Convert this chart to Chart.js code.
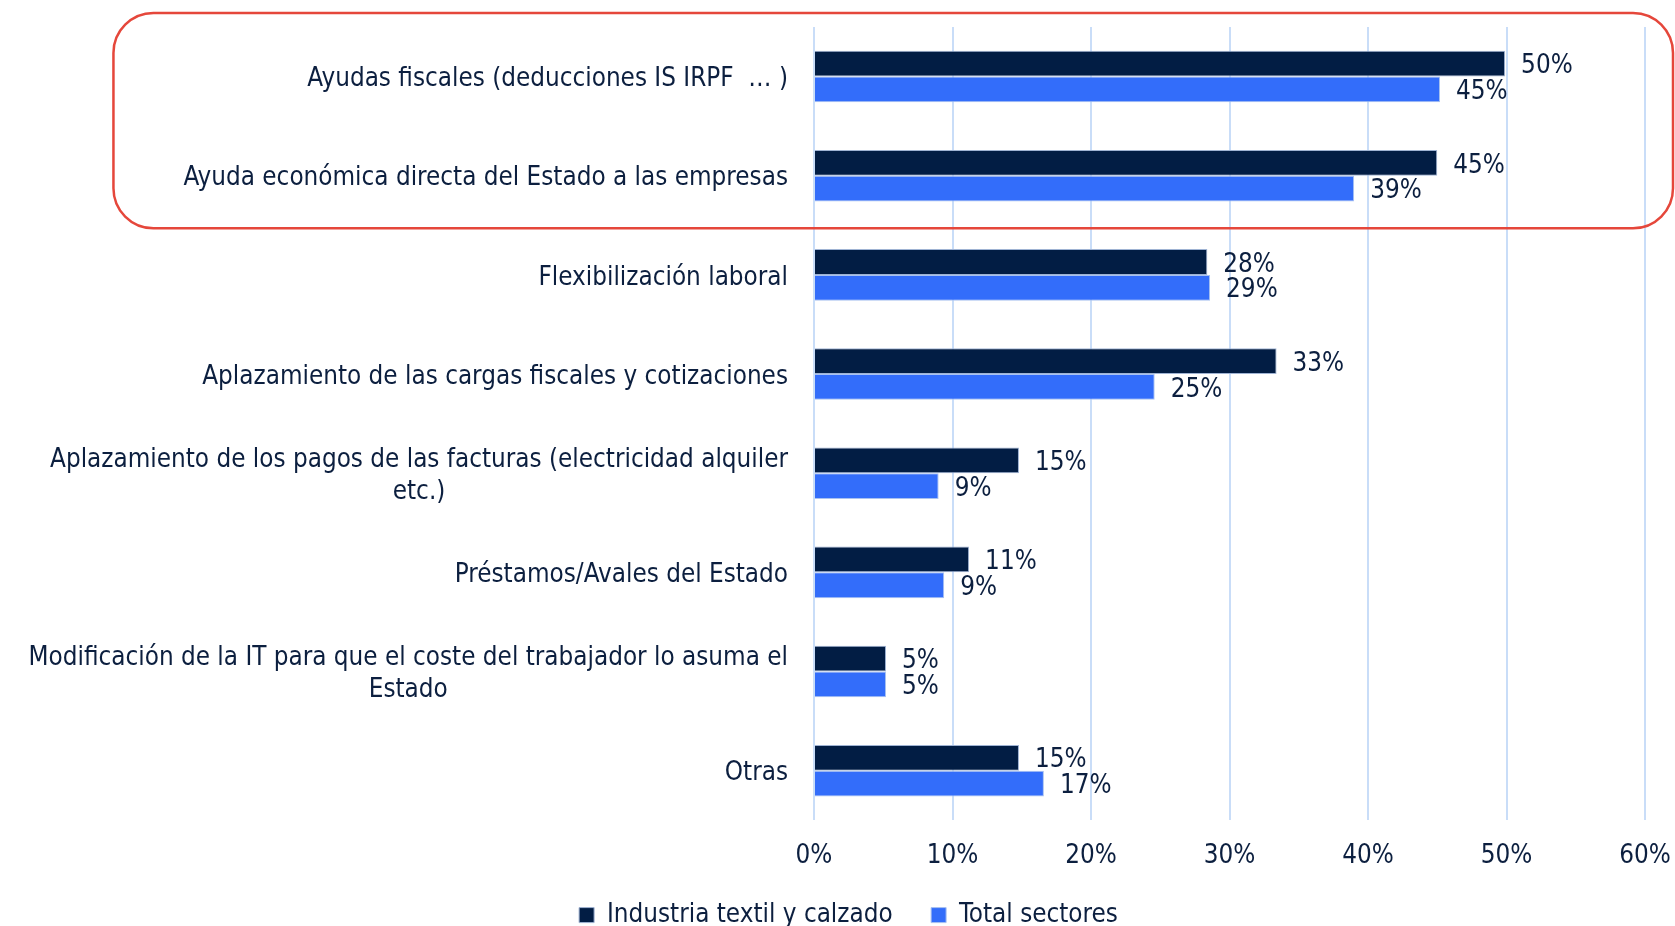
<!DOCTYPE html>
<html><head><meta charset="utf-8">
<script src="https://cdn.jsdelivr.net/npm/chart.js@4/dist/chart.umd.min.js"></script>
<style>html,body{margin:0;padding:0;background:#fff}#wrap{width:1675px;height:926px}</style>
</head><body><div id="wrap"><canvas id="c" width="1675" height="926"></canvas></div>
<script>
const categories = [
  ["Ayudas fiscales (deducciones IS IRPF  … )"],
  ["Ayuda económica directa del Estado a las empresas"],
  ["Flexibilización laboral"],
  ["Aplazamiento de las cargas fiscales y cotizaciones"],
  ["Aplazamiento de los pagos de las facturas (electricidad alquiler", "etc.)"],
  ["Préstamos/Avales del Estado"],
  ["Modificación de la IT para que el coste del trabajador lo asuma el", "Estado"],
  ["Otras"]
];
const seriesNames = ["Industria textil y calzado", "Total sectores"];
const textil = [49.9, 45.0, 28.4, 33.4, 14.8, 11.2, 5.2, 14.8];
const total = [45.2, 39.0, 28.6, 24.6, 9.0, 9.4, 5.2, 16.6];
const xTicks = [0, 10, 20, 30, 40, 50, 60];
const highlighted = [0, 1];

const FONT = "'DejaVu Sans Condensed', 'DejaVu Sans', sans-serif";
const TXT = '#0c1f3f';
const FS = 25.8;

const labelsPlugin = {
  id: 'customLabels',
  afterDatasetsDraw(chart) {
    const ctx = chart.ctx;
    const ys = chart.scales.y;
    const ca = chart.chartArea;
    ctx.save();
    ctx.font = FS + 'px ' + FONT;
    ctx.fillStyle = TXT;
    ctx.textBaseline = 'middle';
    let minLeft = Infinity;
    categories.forEach((lines, i) => {
      const cy = ys.getPixelForValue(i) + 3;
      const widths = lines.map(l => ctx.measureText(l).width);
      const maxW = Math.max(...widths);
      const right = ca.left - 26;
      const lh = 32;
      const startY = cy - (lines.length - 1) * lh / 2;
      lines.forEach((l, k) => {
        ctx.textAlign = 'center';
        ctx.fillText(l, right - maxW / 2, startY + k * lh);
      });
      if (highlighted.includes(i)) minLeft = Math.min(minLeft, right - maxW);
    });
    ctx.textAlign = 'left';
    chart.data.datasets.forEach((ds, di) => {
      const meta = chart.getDatasetMeta(di);
      meta.data.forEach((bar, i) => {
        ctx.fillText(Math.round(ds.data[i]) + '%', bar.x + 16, bar.y + 3);
      });
    });
    const band = ys.getPixelForValue(1) - ys.getPixelForValue(0);
    const top = ys.getPixelForValue(highlighted[0]) - band / 2 - 14;
    const bottom = ys.getPixelForValue(highlighted[highlighted.length - 1]) + band / 2 + 3;
    const left = minLeft - 70;
    const right = ca.right + 28;
    ctx.strokeStyle = '#e5473b';
    ctx.lineWidth = 2.5;
    ctx.beginPath();
    ctx.roundRect(left, top, right - left, bottom - top, 40);
    ctx.stroke();
    ctx.restore();
  }
};

new Chart(document.getElementById('c'), {
  type: 'bar',
  data: {
    labels: categories.map(c => c.join(' ')),
    datasets: [
      { label: seriesNames[0], data: textil, backgroundColor: '#021d44', borderColor: '#9fb3d3', borderWidth: 1, categoryPercentage: 0.52, barPercentage: 1.0 },
      { label: seriesNames[1], data: total, backgroundColor: '#336dfa', borderColor: '#a9c2f0', borderWidth: 1, categoryPercentage: 0.52, barPercentage: 1.0 }
    ]
  },
  options: {
    indexAxis: 'y',
    responsive: false,
    animation: false,
    devicePixelRatio: 1,
    layout: { padding: { top: 27, left: 52, right: 30, bottom: -12 } },
    scales: {
      x: {
        min: 0, max: 60,
        afterBuildTicks: (axis) => { axis.ticks = xTicks.map(v => ({ value: v })); },
        grid: { color: '#c9ddf8', lineWidth: 2, drawTicks: false },
        border: { display: false },
        ticks: { callback: v => v + '%', color: TXT, font: { family: FONT, size: FS }, padding: 21 },
        afterFit: (axis) => { axis.paddingRight = 0; axis.paddingLeft = 0; }
      },
      y: {
        grid: { display: false },
        border: { display: false },
        ticks: { display: false },
        afterFit: (axis) => { axis.width = 762; axis.paddingTop = 0; axis.paddingBottom = 0; }
      }
    },
    plugins: {
      legend: {
        position: 'bottom',
        labels: {
          color: TXT, font: { family: FONT, size: FS }, boxWidth: 15, boxHeight: 15, padding: 9,
          generateLabels: (chart) => {
            const items = Chart.defaults.plugins.legend.labels.generateLabels(chart);
            items.forEach((it, i) => { if (i < items.length - 1) it.text = it.text + '    '; });
            return items;
          }
        }
      },
      tooltip: { enabled: false }
    }
  },
  plugins: [labelsPlugin]
});
</script></body></html>
